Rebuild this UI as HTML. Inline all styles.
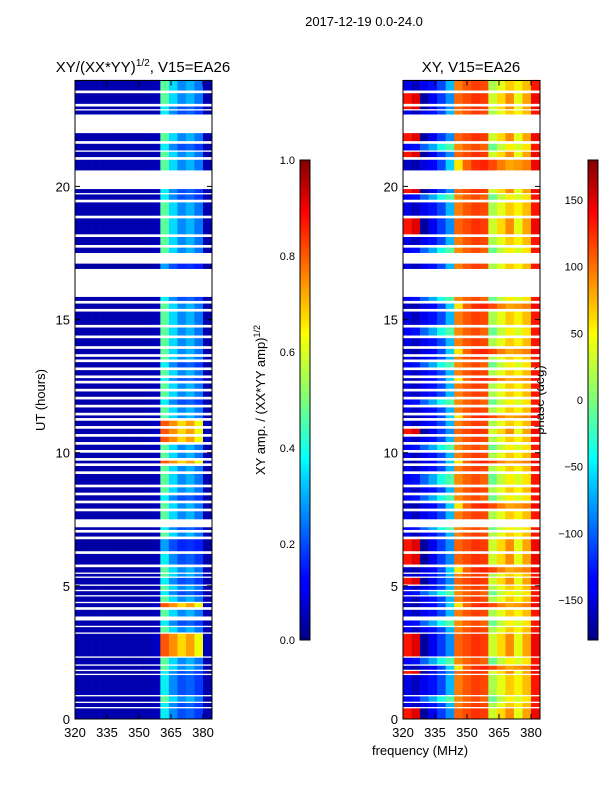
<!DOCTYPE html>
<html><head><meta charset="utf-8"><style>
html,body{margin:0;padding:0;background:#fff;}
svg{display:block;font-family:"Liberation Sans","DejaVu Sans",sans-serif;}
</style></head><body>
<svg id="fig" width="600" height="800" viewBox="0 0 600 800" xmlns="http://www.w3.org/2000/svg">
<defs>
<linearGradient id="jetv" x1="0" y1="1" x2="0" y2="0">
<stop offset="0" stop-color="#000080"/><stop offset="0.11" stop-color="#0000ff"/><stop offset="0.125" stop-color="#0000ff"/>
<stop offset="0.34" stop-color="#00d5ff"/><stop offset="0.375" stop-color="#00ffff"/><stop offset="0.5" stop-color="#7dff7a"/>
<stop offset="0.64" stop-color="#ffff00"/><stop offset="0.66" stop-color="#ffe600"/><stop offset="0.89" stop-color="#ff0000"/><stop offset="1" stop-color="#800000"/>
</linearGradient>
</defs>
<text x="364" y="26" font-size="13" text-anchor="middle">2017-12-19 0.0-24.0</text>
<text x="143" y="72" font-size="15" text-anchor="middle">XY/(XX*YY)<tspan font-size="10" dy="-6">1/2</tspan><tspan dy="6">, V15=EA26</tspan></text>
<text x="471" y="72" font-size="15" text-anchor="middle">XY, V15=EA26</text>
<text transform="translate(45,400) rotate(-90)" font-size="13" text-anchor="middle">UT (hours)</text>
<text x="420" y="755" font-size="13" text-anchor="middle">frequency (MHz)</text>
<text transform="translate(265,400) rotate(-90)" font-size="13" text-anchor="middle">XY amp. / (XX*YY amp)<tspan font-size="9" dy="-5">1/2</tspan></text>
<text transform="translate(544,400) rotate(-90)" font-size="13" text-anchor="middle">phase (deg)</text>
<g id="leftMap"></g>
<g id="rightMap"></g>
<g id="axes"></g>
<rect x="300" y="160" width="10" height="480" fill="url(#jetv)" stroke="#000" stroke-width="1"/>
<rect x="588" y="160" width="10" height="480" fill="url(#jetv)" stroke="#000" stroke-width="1"/>
</svg>
<script>
// ---- data ----
const freqEdges = [320,324,328,332,336,340,344,348,352,356,360,364,368,372,376,380,384];
const ampProfiles = [
 [.04,.04,.04,.04,.04,.04,.04,.04,.04,.05,.36,.26,.20,.22,.18,.04],
 [.04,.04,.04,.04,.04,.04,.04,.04,.04,.05,.46,.34,.26,.30,.24,.04],
 [.04,.04,.04,.04,.04,.04,.04,.04,.04,.06,.82,.76,.68,.74,.64,.05],
 [.03,.03,.03,.03,.03,.03,.03,.03,.03,.04,.28,.20,.16,.17,.15,.03]
];
const phaseProfiles = [
 [-150,-160,-145,-130,-110,-70,100,115,125,120,20,45,70,55,75,140],
 [140,150,-170,-145,-115,-85,110,120,130,125,35,65,95,45,85,145],
 [-140,-130,-100,-75,-45,-20,95,110,120,110,-10,30,55,40,60,140],
 [-160,-165,-150,-135,-110,-60,60,110,130,135,120,100,85,90,100,145]
];
const blocks = [
 [0.0,0.4,0,1],[0.45,0.6,0,0],[0.65,0.85,1,2],[0.9,1.65,0,0],[1.7,1.8,0,1],[1.85,2.0,1,3],[2.05,2.3,1,2],
 [2.35,3.2,2,1],[3.25,3.45,1,0],[3.5,3.7,0,2],[3.85,4.1,1,0],[4.2,4.35,2,3],[4.4,4.6,1,0],[4.65,4.8,0,2],
 [4.85,5.0,1,0],[5.05,5.3,0,1],[5.35,5.45,1,0],[5.5,5.7,1,3],[5.8,6.2,0,1],[6.3,6.75,3,1],[6.85,7.0,1,0],
 [7.1,7.2,0,2],[7.5,7.8,1,0],[7.9,8.1,1,3],[8.2,8.4,0,2],[8.5,8.7,1,0],[8.8,9.2,1,2],[9.3,9.5,1,0],
 [9.6,9.7,2,3],[9.8,10.0,1,0],[10.1,10.3,1,2],[10.4,10.6,2,0],[10.7,10.9,2,1],[11.0,11.2,2,0],[11.3,11.4,1,3],
 [11.5,11.7,1,0],[11.8,12.0,0,2],[12.1,12.3,1,0],[12.4,12.6,1,0],[12.7,12.8,0,3],[12.9,13.1,1,0],[13.2,13.4,0,2],
 [13.5,13.6,1,0],[13.7,13.9,1,3],[14.0,14.3,1,0],[14.4,14.7,1,2],[14.8,15.3,1,0],[15.4,15.6,1,3],[15.7,15.85,0,2],
 [16.9,17.1,3,0],[17.5,17.7,1,2],[17.8,18.1,1,0],[18.2,18.8,1,1],[18.9,19.4,1,0],[19.5,19.7,0,2],[19.75,19.9,0,1],
 [20.6,21.0,1,3],[21.1,21.3,1,1],[21.35,21.6,0,2],[21.7,22.0,1,1],[22.7,22.85,0,0],[22.9,23.0,0,1],
 [23.1,23.5,1,1],[23.6,24.0,1,0]
];
const yTicks = [0,5,10,15,20];
const xTicks = [320,335,350,365,380];
const ampTicks = [0.0,0.2,0.4,0.6,0.8,1.0];
const phaseTicks = [-150,-100,-50,0,50,100,150];

// ---- scales ----
const NS="http://www.w3.org/2000/svg";
const Y0=719, YPH=26.63;
function yS(h){return Y0-h*YPH;}
function xL(f){return 75+(f-320)*128/60;}
function xR(f){return 403+(f-320)*128/60;}
function jet(v){v=Math.max(0,Math.min(1,v));
 function ip(pts){for(let i=1;i<pts.length;i++){if(v<=pts[i][0]){const a=pts[i-1],b=pts[i];return a[1]+(b[1]-a[1])*(v-a[0])/(b[0]-a[0]);}}return pts[pts.length-1][1];}
 const r=ip([[0,0],[0.35,0],[0.66,1],[0.89,1],[1,0.5]]);
 const g=ip([[0,0],[0.125,0],[0.375,1],[0.64,1],[0.91,0],[1,0]]);
 const b=ip([[0,0.5],[0.11,1],[0.34,1],[0.65,0],[1,0]]);
 return `rgb(${Math.round(r*255)},${Math.round(g*255)},${Math.round(b*255)})`;}
function mk(tag,attrs,parent){const e=document.createElementNS(NS,tag);for(const k in attrs)e.setAttribute(k,attrs[k]);parent.appendChild(e);return e;}

const L=document.getElementById('leftMap'), R=document.getElementById('rightMap');
blocks.forEach(b=>{
 const y1=yS(b[1]), y0=yS(b[0]);
 for(let i=0;i<freqEdges.length-1;i++){
  const a=ampProfiles[b[2]][i], p=phaseProfiles[b[3]][i];
  let r=mk('rect',{x:xL(freqEdges[i]),y:y1,width:xL(freqEdges[i+1])-xL(freqEdges[i])+0.3,height:y0-y1,fill:jet(a)},L);
  
  
  let q=mk('rect',{x:xR(freqEdges[i]),y:y1,width:xR(freqEdges[i+1])-xR(freqEdges[i])+0.3,height:y0-y1,fill:jet((p+180)/360)},R);
  
  
 }
});

const A=document.getElementById('axes');
[[75,'left'],[403,'right']].forEach(([x0,side])=>{
 const f=mk('rect',{x:x0,y:80.5,width:137,height:638.5,fill:'none',stroke:'#000','stroke-width':1},A);
 
 
 yTicks.forEach(t=>{
  const y=yS(t);
  mk('line',{x1:x0,x2:x0+5,y1:y,y2:y,stroke:'#000'},A);
  mk('line',{x1:x0+137,x2:x0+132,y1:y,y2:y,stroke:'#000'},A);
  const tx=mk('text',{x:x0-5,y:y+5,'font-size':13,'text-anchor':'end'},A);
  tx.textContent=t;
  
  
 });
 xTicks.forEach(t=>{
  const x=x0+(t-320)*128/60;
  mk('line',{x1:x,x2:x,y1:719,y2:714,stroke:'#000'},A);
  mk('line',{x1:x,x2:x,y1:80.5,y2:85.5,stroke:'#000'},A);
  const tx=mk('text',{x:x,y:737,'font-size':13,'text-anchor':'middle'},A);
  tx.textContent=t;
  
  
 });
});
ampTicks.forEach(t=>{
 const y=640-t*480;
 mk('line',{x1:305,x2:310,y1:y,y2:y,stroke:'#000'},A);
 const tx=mk('text',{x:295,y:y+4,'font-size':11,'text-anchor':'end'},A);
 tx.textContent=t.toFixed(1);
 
 
});
phaseTicks.forEach(t=>{
 const y=640-(t+180)*480/360;
 mk('line',{x1:593,x2:598,y1:y,y2:y,stroke:'#000'},A);
 const tx=mk('text',{x:583,y:y+4,'font-size':11,'text-anchor':'end'},A);
 tx.textContent=t<0?'\u2212'+(-t):t;
 
 
});
</script>
</body></html>
